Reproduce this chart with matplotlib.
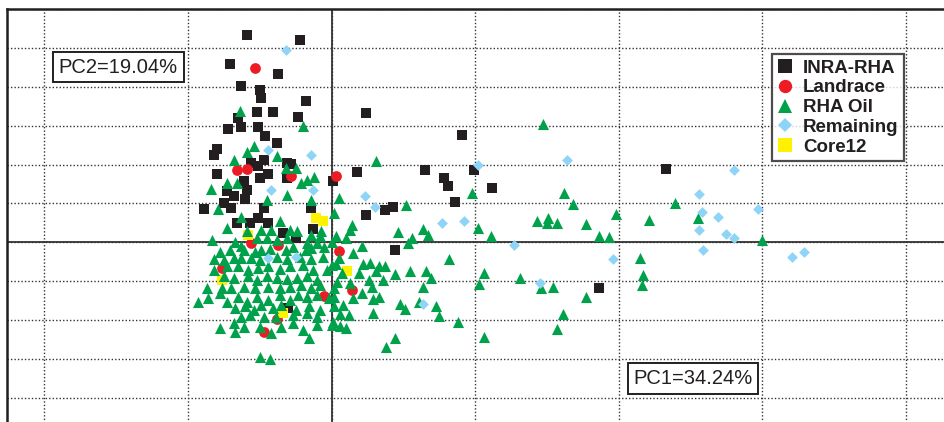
import matplotlib.pyplot as plt
from matplotlib.lines import Line2D
from matplotlib.patches import Rectangle

plt.rcParams['font.family'] = ['Liberation Sans', 'DejaVu Sans']

# PCA scores (PC1, PC2), one list per group
inra_rha = [
    (-0.59, 5.35), (-0.22, 5.22), (-0.71, 4.60), (-0.37, 4.34), (-0.63, 4.03), (-0.50, 3.93),
    (-0.49, 3.72), (-0.18, 3.65), (-0.52, 3.36), (-0.41, 3.36), (-0.65, 3.21), (-0.23, 3.22),
    (0.24, 3.34), (-0.72, 2.93), (-0.63, 2.96), (-0.51, 2.98), (-0.46, 2.73), (-0.38, 2.56),
    (-0.80, 2.41), (-0.82, 2.26), (-0.56, 2.03), (-0.51, 1.97), (-0.47, 2.11), (-0.31, 2.04),
    (-0.28, 2.02), (-0.80, 1.77), (-0.44, 1.77), (0.18, 1.82), (0.01, 1.59), (-0.50, 1.65),
    (-0.31, 1.65), (-0.61, 1.57), (-0.73, 1.31), (-0.68, 1.18), (-0.59, 1.35), (-0.60, 1.11),
    (-0.75, 1.01), (-0.70, 0.88), (-0.89, 0.86), (-0.47, 0.88), (-0.14, 0.88), (0.24, 0.71),
    (-0.51, 0.62), (-0.66, 0.51), (-0.57, 0.51), (-0.44, 0.49), (-0.13, 0.34), (-0.34, 0.24),
    (-0.25, 0.11), (-0.30, -1.70), (0.91, 2.77), (0.65, 1.87), (0.78, 1.65), (0.81, 1.44),
    (0.99, 1.85), (1.12, 1.39), (0.86, 1.04), (0.37, 0.84), (0.43, 0.92), (0.44, -0.19),
    (1.86, -1.17), (2.33, 1.89),
]

landrace = [
    (-0.53, 4.50), (-0.66, 1.85), (-0.59, 1.89), (-0.28, 1.72), (0.03, 1.72), (-0.56, -0.02),
    (-0.37, -0.06), (0.05, -0.22), (-0.76, -0.65), (-0.05, -1.38), (0.14, -1.24), (-0.38, -1.98),
    (-0.47, -2.30),
]

rha_oil = [
    (-0.64, 3.38), (-0.20, 2.99), (-0.54, 2.49), (-0.59, 2.32), (-0.68, 2.11), (-0.38, 2.23),
    (-0.32, 1.91), (-0.25, 1.91), (-0.12, 1.68),
    (1.47, 3.05), (0.31, 2.10), (0.05, 1.14), (0.02, 0.75), (0.52, 0.97), (0.98, 1.27),
    (1.62, 1.27), (1.68, 0.98), (1.98, 0.73), (2.21, 0.58), (1.43, 0.54), (1.51, 0.62),
    (1.57, 0.49), (1.50, 0.49), (1.77, 0.47), (1.86, 0.17), (1.93, 0.13), (1.02, 0.38),
    (1.11, 0.17), (0.46, 0.26), (0.56, 0.12), (0.53, -0.02), (0.64, 0.34), (0.67, 0.18),
    (0.14, 0.45), (0.13, 0.32), (0.03, 0.17), (0.10, 0.11), (0.21, -0.09), (0.15, -0.28),
    (0.05, -0.41), (0.82, -0.43), (2.15, -0.41), (2.17, -0.84), (2.16, -1.10), (0.03, -0.55),
    (0.22, -0.55), (0.27, -0.52), (0.33, -0.61), (0.37, -0.61), (0.19, -0.79), (0.31, -0.75),
    (0.44, -0.82), (0.55, -0.75), (0.66, -0.75), (0.69, -0.91), (0.04, -1.01), (0.26, -0.97),
    (0.36, -0.97), (1.06, -0.79), (1.03, -1.08), (1.31, -0.92), (1.46, -1.18), (1.54, -1.15),
    (0.64, -1.16), (0.28, -1.14), (0.21, -1.31), (0.02, -1.40), (0.29, -1.46), (0.33, -1.41),
    (0.08, -1.61), (0.02, -1.65), (0.48, -1.59), (0.51, -1.72), (0.61, -1.53), (0.73, -1.65),
    (0.75, -1.89), (0.29, -1.81), (0.06, -1.84), (0.12, -1.87), (0.01, -2.04), (0.06, -2.15),
    (0.10, -2.21), (0.88, -2.04), (1.77, -1.41), (1.61, -1.84), (1.57, -2.24), (1.06, -2.43),
    (0.44, -2.47), (0.38, -2.70),
    (2.39, 1.01), (2.55, 0.62), (3.00, 0.05),
    (-0.84, 1.37), (-0.73, 1.54), (-0.66, 1.54), (-0.31, 1.22), (-0.21, 1.53), (-0.17, 1.61),
    (-0.14, 1.10), (-0.45, 1.08), (-0.79, 0.86), (-0.63, 0.65), (-0.36, 0.56), (-0.73, 0.37),
    (-0.59, 0.30), (-0.49, 0.32), (-0.42, 0.32), (-0.29, 0.32), (-0.24, 0.30), (-0.14, 0.19),
    (-0.07, 0.28), (-0.08, 0.15),
    (-0.83, 0.05), (-0.67, 0.02), (-0.63, -0.09), (-0.52, 0.11), (-0.45, 0.11), (-0.38, 0.06),
    (-0.31, 0.11), (-0.17, -0.02), (-0.10, -0.02), (0.00, 0.02),
    (-0.78, -0.24), (-0.71, -0.19), (-0.61, -0.19), (-0.53, -0.24), (-0.49, -0.19), (-0.43, -0.18),
    (-0.32, -0.19), (-0.27, -0.11), (-0.18, -0.19), (-0.14, -0.15), (-0.05, -0.12),
    (-0.82, -0.43), (-0.75, -0.45), (-0.68, -0.41), (-0.63, -0.41), (-0.56, -0.41), (-0.50, -0.45),
    (-0.38, -0.37), (-0.31, -0.43), (-0.22, -0.38), (-0.14, -0.43), (-0.06, -0.38), (0.00, -0.58),
    (-0.82, -0.71), (-0.73, -0.62), (-0.65, -0.62), (-0.58, -0.71), (-0.51, -0.66), (-0.44, -0.62),
    (-0.36, -0.69), (-0.29, -0.62), (-0.20, -0.58), (-0.13, -0.71), (-0.03, -0.71), (0.07, -0.79),
    (0.13, -1.05),
    (-0.75, -0.88), (-0.68, -0.92), (-0.58, -0.86), (-0.52, -0.97), (-0.45, -0.88), (-0.38, -0.92),
    (-0.31, -0.95), (-0.24, -0.92), (-0.17, -0.88), (-0.10, -0.97),
    (-0.87, -1.18), (-0.76, -1.18), (-0.70, -1.18), (-0.61, -1.14), (-0.53, -1.18), (-0.44, -1.14),
    (-0.36, -1.18), (-0.29, -1.14), (-0.21, -1.10), (-0.14, -1.18), (-0.08, -1.10), (0.02, -1.18),
    (-0.93, -1.53), (-0.86, -1.44), (-0.78, -1.31), (-0.73, -1.53), (-0.65, -1.40), (-0.59, -1.53),
    (-0.52, -1.40), (-0.44, -1.48), (-0.36, -1.35), (-0.29, -1.48), (-0.23, -1.35), (-0.17, -1.40),
    (-0.10, -1.35), (-0.02, -1.44), (0.15, -1.44),
    (-0.67, -1.70), (-0.60, -1.65), (-0.54, -1.74), (-0.49, -1.61), (-0.41, -1.70), (-0.35, -1.61),
    (-0.25, -1.74), (-0.16, -1.65), (-0.08, -1.74),
    (-0.63, -1.91), (-0.57, -1.87), (-0.47, -1.91), (-0.39, -1.91), (-0.27, -1.87), (-0.17, -1.82),
    (-0.10, -1.91),
    (-0.78, -2.21), (-0.68, -2.08), (-0.61, -2.17), (-0.50, -2.17), (-0.42, -2.34), (-0.35, -2.17),
    (-0.27, -2.08), (-0.20, -2.26), (-0.10, -2.13), (0.00, -2.13),
    (-0.67, -2.30), (-0.16, -2.47), (-0.50, -2.94), (-0.43, -3.01),
]

remaining = [
    (-0.32, 4.94), (-0.44, 2.37), (-0.14, 2.24), (-0.42, 1.35), (-0.13, 1.34), (0.23, 1.18),
    (0.30, 0.92), (-0.44, -0.41), (-0.25, -0.38), (1.02, 1.99), (1.64, 2.13), (0.77, 0.51),
    (0.92, 0.56), (1.27, -0.06), (1.96, -0.43), (1.45, -1.04), (0.64, -1.59), (2.80, 1.85),
    (2.56, 1.25), (2.58, 0.77), (2.69, 0.66), (2.97, 0.87), (2.56, 0.32), (2.75, 0.22),
    (2.80, 0.11), (2.59, -0.19), (3.21, -0.37), (3.29, -0.25),
]

core12 = [
    (-0.11, 0.62), (-0.06, 0.54), (-0.58, 0.19), (-0.76, -0.97), (0.11, -0.75), (-0.34, -1.82),
]

# label, points, marker, colour, scatter size, legend marker size
groups = {
    'INRA-RHA': (inra_rha, 's', '#231f20', 56, 9.4),
    'Landrace': (landrace, 'o', '#ed1c24', 60, 9.6),
    'RHA Oil': (rha_oil, '^', '#00a14b', 64, 9.8),
    'Remaining': (remaining, 'D', '#8dd4f6', 30, 7.0),
    'Core12': (core12, 's', '#fff200', 56, 9.4),
}
draw_order = ['INRA-RHA', 'Landrace', 'Core12', 'RHA Oil', 'Remaining']

fig = plt.figure(figsize=(9.45, 4.22), dpi=100)
ax = fig.add_axes([0.0071, -0.0344, 1.0275, 1.0124])

for name in draw_order:
    pts, mk, col, size, _ = groups[name]
    xs, ys = zip(*pts)
    ax.scatter(xs, ys, marker=mk, s=size, color=col, linewidths=0, zorder=3)

ax.set_xlim(-2.262, 4.5)
ax.set_ylim(-5, 6)
ax.set_xticks(range(-2, 5))
ax.set_yticks(range(-5, 7))
ax.tick_params(length=0, labelbottom=False, labelleft=False)
ax.grid(True, linestyle=(0, (1, 1.5)), color='#333333', linewidth=1.0, zorder=0)
ax.axhline(0, color='#333333', linewidth=1.3, zorder=1)
ax.axvline(0, color='#333333', linewidth=1.3, zorder=1)
for sp in ax.spines.values():
    sp.set_linewidth(1.8)
    sp.set_color('#231f20')

# variance boxes
fig.add_artist(Rectangle((52.7 / 945, 1 - 82 / 422), 131.3 / 945, 30 / 422,
                         transform=fig.transFigure, facecolor='white',
                         edgecolor='#231f20', linewidth=1.4))
fig.text(118.3 / 945, 1 - 67.5 / 422, 'PC2=19.04%', ha='center', va='center',
         fontsize=14.5, color='#231f20')
fig.add_artist(Rectangle((628 / 945, 1 - 394 / 422), 130 / 945, 31 / 422,
                         transform=fig.transFigure, facecolor='white',
                         edgecolor='#231f20', linewidth=1.4))
fig.text(693 / 945, 1 - 379 / 422, 'PC1=34.24%', ha='center', va='center',
         fontsize=14.5, color='#231f20')

handles = []
for name in ['INRA-RHA', 'Landrace', 'RHA Oil', 'Remaining', 'Core12']:
    _, mk, col, _, msize = groups[name]
    handles.append(Line2D([], [], marker=mk, linestyle='none', markersize=msize,
                          color=col, markeredgewidth=0, label=name))
leg = fig.legend(handles=handles, loc='upper left', bbox_to_anchor=(772 / 945, 1 - 54 / 422),
                 bbox_transform=fig.transFigure, frameon=True, fancybox=False,
                 edgecolor='#231f20', borderpad=0.3, handlelength=0.8,
                 handletextpad=0.55, labelspacing=0.14, borderaxespad=0,
                 prop={'weight': 'bold', 'size': 13.5})
leg.get_frame().set_linewidth(1.6)
for t in leg.get_texts():
    t.set_color('#231f20')

fig.savefig('out.png', dpi=100)
